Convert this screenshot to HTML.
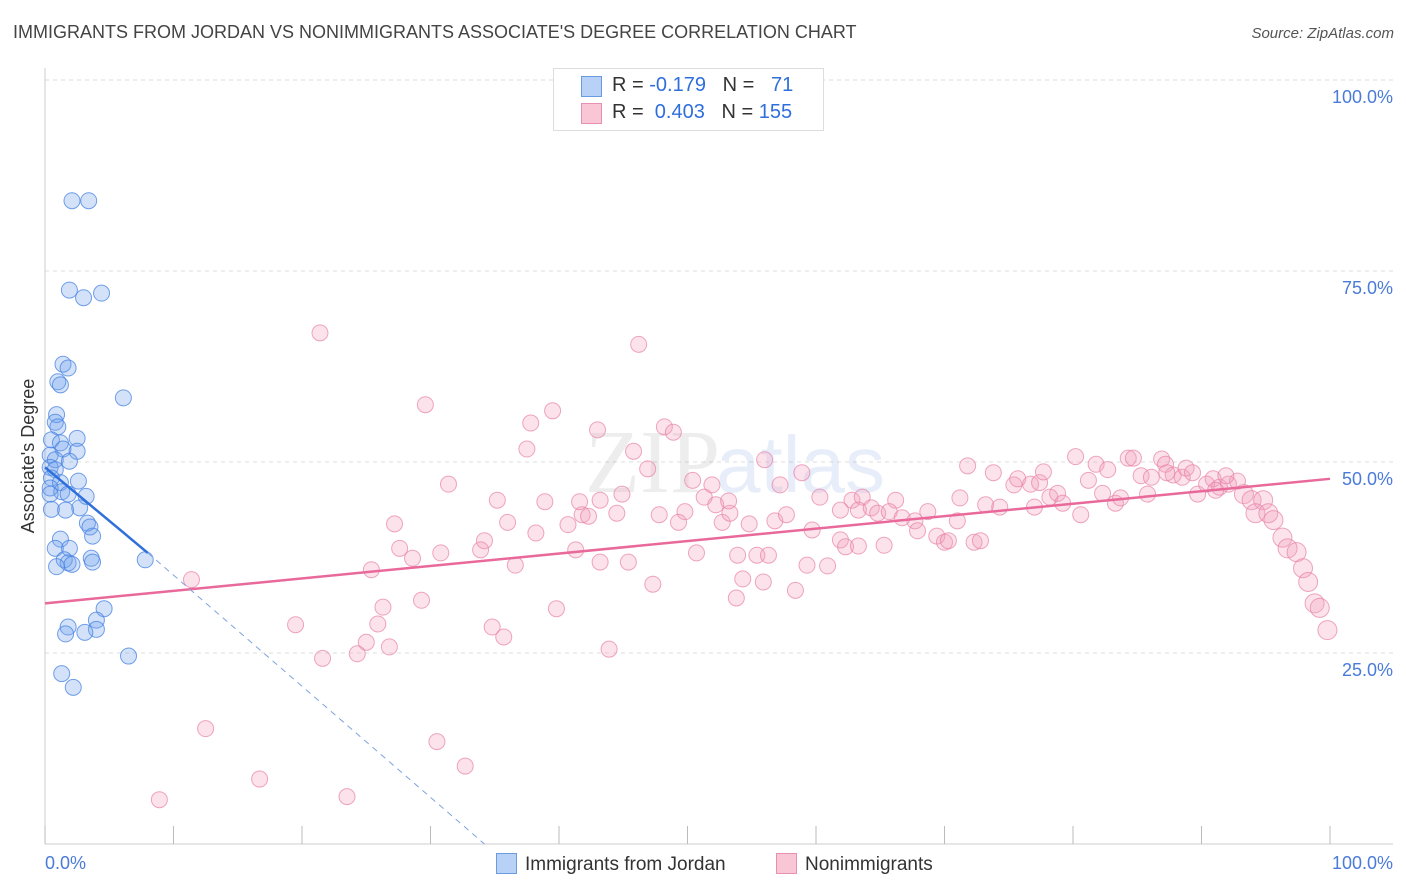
<!DOCTYPE html>
<html><head><meta charset="utf-8">
<style>
body{margin:0;background:#fff;font-family:"Liberation Sans",sans-serif;}
#wrap{position:relative;width:1406px;height:892px;overflow:hidden;}
.t{position:absolute;white-space:nowrap;}
</style></head>
<body>
<div id="wrap">
<div class="t" style="left:13px;top:22px;font-size:18px;color:#444;">IMMIGRANTS FROM JORDAN VS NONIMMIGRANTS ASSOCIATE'S DEGREE CORRELATION CHART</div>
<div class="t" style="right:12px;top:25px;font-size:15px;color:#555;font-style:italic;">Source: ZipAtlas.com</div>
<svg id="svg" width="1406" height="892" style="position:absolute;left:0;top:0"></svg>
</div>
<script>
const xTicks=[0,10,20,30,40,50,60,70,80,90,100];
const yTicks=[25,50,75,100];
const yTickLabels=["25.0%","50.0%","75.0%","100.0%"];
const blueX=[2.1,3.4,1.9,3.0,4.4,1.4,1.8,1.0,1.2,6.1,0.9,0.8,1.0,0.5,1.2,2.5,1.4,2.5,0.4,0.8,1.9,0.4,0.8,2.6,0.5,1.2,0.4,1.3,1.8,3.2,0.4,2.7,0.5,1.6,3.3,3.5,3.7,1.2,1.9,0.8,1.5,1.8,3.6,3.7,0.9,2.1,7.8,4.6,4.0,4.0,1.8,3.1,1.6,6.5,1.3,2.2];
const blueY=[84.2,84.2,72.5,71.5,72.1,62.8,62.3,60.5,60.1,58.4,56.2,55.2,54.6,52.9,52.5,53.1,51.7,51.4,50.9,50.3,50.1,49.3,49.0,47.5,47.9,47.3,46.6,46.1,45.8,45.5,45.8,44.0,43.8,43.7,42.0,41.5,40.3,39.9,38.7,38.7,37.2,36.8,37.4,36.9,36.3,36.6,37.2,30.8,29.3,28.1,28.4,27.7,27.5,24.6,22.3,20.5];
const pinkX=[21.4,46.2,29.6,39.5,37.8,43.0,48.2,48.9,37.5,45.8,31.4,35.2,38.9,46.9,50.4,51.9,44.9,51.3,52.2,41.8,42.3,44.5,36.0,27.2,34.2,38.2,40.7,47.8,49.8,49.3,52.7,53.3,54.8,56.8,57.7,58.9,57.2,60.3,59.7,61.9,62.3,62.8,63.6,63.3,64.3,64.8,66.2,65.7,66.7,67.7,68.7,67.9,69.4,70.0,70.3,71.2,71.0,72.3,72.8,71.8,73.8,73.2,74.3,75.4,75.7,76.7,77.4,77.7,77.0,78.2,78.8,79.2,80.2,80.6,81.2,81.8,82.7,82.3,83.3,84.3,84.7,85.3,86.1,85.8,86.9,87.2,87.8,88.5,88.8,89.3,89.7,90.4,90.9,91.4,92.1,92.8,93.3,93.9,94.8,94.2,95.2,95.6,96.3,96.7,97.4,97.9,98.3,98.8,99.2,99.8,91.9,91.1,87.3,27.6,28.6,30.8,33.9,36.6,41.3,43.2,45.4,50.7,53.9,55.4,56.3,59.3,60.9,63.3,25.4,11.4,26.3,29.3,39.8,34.8,35.7,25.9,25.0,26.8,24.3,43.9,19.5,21.6,47.3,54.3,55.9,53.8,58.4,65.3,12.5,30.5,32.7,16.7,8.9,23.5,53.2,43.2,41.6,61.9,83.7,56.0];
const pinkY=[66.9,65.4,57.5,56.7,55.1,54.2,54.6,53.9,51.7,51.4,47.1,45.0,44.8,49.1,47.6,47.0,45.8,45.4,44.4,43.1,42.9,43.3,42.1,41.9,39.7,40.7,41.8,43.1,43.5,42.1,42.1,43.3,41.9,42.3,43.1,48.6,47.0,45.4,41.1,39.8,38.9,45.0,45.4,43.7,44.0,43.3,45.0,43.5,42.7,42.3,43.5,41.0,40.3,39.5,39.7,45.3,42.3,39.5,39.7,49.5,48.6,44.4,44.1,47.0,47.8,47.1,47.3,48.7,44.1,45.4,45.9,44.6,50.7,43.1,47.6,49.7,49.0,45.9,44.6,50.5,50.5,48.2,48.0,45.8,50.4,49.7,48.3,48.0,49.2,48.6,45.8,47.1,47.8,46.7,47.1,47.5,45.8,45.0,45.0,43.3,43.3,42.4,40.1,38.7,38.2,36.1,34.3,31.5,30.9,28.0,48.2,46.3,48.6,38.7,37.4,38.1,38.5,36.5,38.5,36.9,36.9,38.1,37.8,37.8,37.8,36.5,36.4,39.0,35.9,34.6,31.0,31.9,30.8,28.4,27.1,28.8,26.4,25.8,24.9,25.5,28.7,24.3,34.0,34.7,34.3,32.2,33.2,39.1,15.1,13.4,10.2,8.5,5.8,6.2,44.9,45.0,44.8,43.7,45.3,50.3];
const blueLine=[0,49.3,8,38.1,34.2,0];
const pinkLine=[0,31.5,100,47.8];

const NS="http://www.w3.org/2000/svg";
const svg=document.getElementById('svg');
const X=v=>45+v*12.85, Y=v=>844-v*7.64;
function mk(tag,a){const e=document.createElementNS(NS,tag);for(const k in a)e.setAttribute(k,a[k]);svg.appendChild(e);return e;}
function txt(x,y,s,size,fill,anchor){const e=mk('text',{x:x,y:y,'font-size':size,fill:fill,'text-anchor':anchor||'start','font-family':'Liberation Sans, sans-serif'});e.textContent=s;return e;}

yTicks.forEach((v,i)=>{
  const g=mk('line',{x1:45,x2:1393,y1:Y(v),y2:Y(v),stroke:'#ddd','stroke-dasharray':'4,4'});
  
  
  const l=txt(1393,Y(v)+23,yTickLabels[i],18,'#4a7bd8','end');
  
  
});
mk('line',{x1:45,x2:1393,y1:844,y2:844,stroke:'#ccc'});
mk('line',{x1:45,x2:45,y1:68,y2:844,stroke:'#ccc'});
xTicks.forEach(v=>{
  const t=mk('line',{x1:X(v),x2:X(v),y1:826,y2:844,stroke:'#bbb'});
  
  
});
let e=txt(45,869,'0.0%',18,'#4a7bd8');


e=txt(1393,869,'100.0%',18,'#4a7bd8','end');


e=txt(34,456,"Associate's Degree",18,'#333','middle');
e.setAttribute('transform','rotate(-90 34 456)');


e=txt(720,492,'ZIP',90,'rgba(0,0,0,0.07)','end');
e.setAttribute('font-family','Liberation Serif, serif');


e=txt(716,492,'atlas',80,'rgba(70,120,220,0.13)');



pinkX.forEach((v,i)=>{
  const c=mk('circle',{cx:X(v),cy:Y(pinkY[i]),r:v>93?9.5:8,fill:'rgba(242,160,188,0.3)',stroke:'rgba(232,130,165,0.7)','stroke-width':1});
  
  
});
blueX.forEach((v,i)=>{
  const c=mk('circle',{cx:X(v),cy:Y(blueY[i]),r:8,fill:'rgba(110,160,235,0.3)',stroke:'rgba(70,130,225,0.75)','stroke-width':1});
  
  
});
e=mk('line',{x1:X(pinkLine[0]),y1:Y(pinkLine[1]),x2:X(pinkLine[2]),y2:Y(pinkLine[3]),stroke:'#e8699a','stroke-width':2.5});


e=mk('line',{x1:X(blueLine[0]),y1:Y(blueLine[1]),x2:X(blueLine[2]),y2:Y(blueLine[3]),stroke:'#2f6fdc','stroke-width':2.5});


e=mk('line',{x1:X(blueLine[2]),y1:Y(blueLine[3]),x2:X(blueLine[4]),y2:Y(blueLine[5]),stroke:'#7ea3e0','stroke-width':1,'stroke-dasharray':'6,5'});


</script>
<div class="t" style="left:553px;top:68px;width:269px;height:61px;border:1px solid #ddd;background:#fff;font-size:20px;color:#333;">
  <div style="position:absolute;left:27px;top:7px;width:19px;height:19px;background:#b8d2f7;border:1px solid #6a9ae0;"></div>
  <div style="position:absolute;left:58px;top:5px;">R = <span style="color:#2f6fdc">-0.179</span>&nbsp;&nbsp;&nbsp;N = &nbsp;&nbsp;<span style="color:#2f6fdc">71</span></div>
  <div style="position:absolute;left:27px;top:34px;width:19px;height:19px;background:#f9c6d6;border:1px solid #e890b0;"></div>
  <div style="position:absolute;left:58px;top:32px;">R = &nbsp;<span style="color:#2f6fdc">0.403</span>&nbsp;&nbsp;&nbsp;N = <span style="color:#2f6fdc">155</span></div>
</div>
<div class="t" style="left:496px;top:853px;font-size:19px;color:#333;">
  <span style="display:inline-block;width:19px;height:19px;background:#b8d2f7;border:1px solid #6a9ae0;vertical-align:-4px;margin-right:8px;"></span>Immigrants from Jordan</div>
<div class="t" style="left:776px;top:853px;font-size:19px;color:#333;">
  <span style="display:inline-block;width:19px;height:19px;background:#f9c6d6;border:1px solid #e890b0;vertical-align:-4px;margin-right:8px;"></span>Nonimmigrants</div>
</body></html>
